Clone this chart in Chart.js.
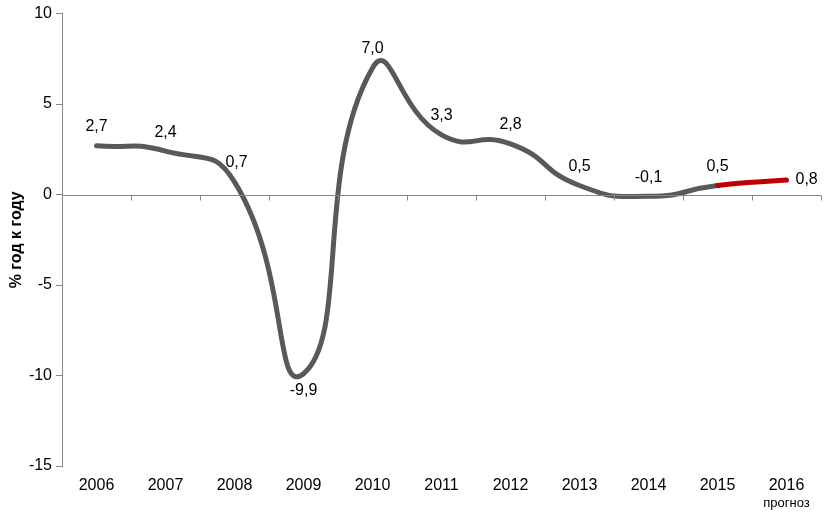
<!DOCTYPE html>
<html>
<head>
<meta charset="utf-8">
<script src="https://cdn.jsdelivr.net/npm/chart.js@4"></script>
<style>
  html, body { margin: 0; padding: 0; background: #fff; }
  #wrap { width: 832px; height: 515px; }
</style>
</head>
<body>
<div id="wrap"><canvas id="grafica" width="832" height="515"></canvas></div>
<script>
const years = ['2006', '2007', '2008', '2009', '2010', '2011', '2012', '2013', '2014', '2015', '2016'];
const growth = [2.7, 2.4, 0.7, -9.9, 7.0, 3.3, 2.8, 0.5, -0.1, 0.5, 0.8];
const forecastNote = 'прогноз';
const yTicks = [-15, -10, -5, 0, 5, 10];

const FONT = 'Arial, "Liberation Sans", sans-serif';
const AXIS_GRAY = '#868686';

// подписи значений и линия нуля с засечками
const extras = {
  id: 'extras',
  afterDatasetsDraw(chart) {
    const { ctx, scales: { x, y }, chartArea } = chart;
    ctx.save();
    // ось X на нуле
    const y0 = Math.round(y.getPixelForValue(0)) + 0.5;
    ctx.strokeStyle = AXIS_GRAY;
    ctx.lineWidth = 1;
    ctx.beginPath();
    ctx.moveTo(chartArea.left, y0);
    ctx.lineTo(chartArea.right, y0);
    for (let i = 0; i <= years.length; i++) {
      const px = Math.round(chartArea.left + (chartArea.right - chartArea.left) * i / years.length) + 0.5;
      ctx.moveTo(px, y0);
      ctx.lineTo(px, y0 + 5);
    }
    ctx.stroke();

    // значения
    ctx.fillStyle = '#000';
    ctx.font = '16px ' + FONT;
    ctx.textBaseline = 'middle';
    const meta = chart.getDatasetMeta(0);
    meta.data.forEach((pt, i) => {
      const txt = growth[i].toFixed(1).replace('.', ',');
      let lx = pt.x, ly = pt.y - 19, align = 'center';
      if (i === 3) { ly = pt.y + 17; }
      if (i === 2) { lx = pt.x + 2; }
      if (i === years.length - 1) { lx = pt.x + 9; ly = pt.y; align = 'left'; }
      ctx.textAlign = align;
      ctx.fillText(txt, lx, ly);
    });

    // подпись "прогноз"
    const last = x.getPixelForValue(years.length - 1);
    ctx.font = '13px ' + FONT;
    ctx.textAlign = 'center';
    ctx.fillText(forecastNote, last, 503);
    ctx.restore();
  }
};

new Chart(document.getElementById('grafica').getContext('2d'), {
  type: 'line',
  data: {
    labels: years,
    datasets: [{
      data: growth,
      borderColor: '#595959',
      borderWidth: 5,
      borderCapStyle: 'round',
      tension: 0.55,
      pointRadius: 0,
      fill: false,
      segment: {
        borderColor: c => c.p0DataIndex === years.length - 2 ? '#c00000' : '#595959'
      }
    }]
  },
  options: {
    responsive: false,
    animation: false,
    layout: { padding: { top: 11, right: 11, left: 0, bottom: 0 } },
    plugins: { legend: { display: false }, tooltip: { enabled: false } },
    scales: {
      x: {
        offset: true,
        grid: { display: false },
        border: { display: false },
        ticks: { color: '#000', font: { size: 16, family: FONT }, padding: 2, maxRotation: 0 },
        afterFit: s => { s.height = 49; }
      },
      y: {
        min: -15,
        max: 10,
        afterBuildTicks: s => { s.ticks = yTicks.map(v => ({ value: v })); },
        grid: { drawOnChartArea: false, drawTicks: true, tickLength: 6, color: AXIS_GRAY },
        border: { display: true, color: AXIS_GRAY },
        ticks: { color: '#000', font: { size: 16, family: FONT }, padding: 4 },
        title: { display: true, text: '% год к году', color: '#000', font: { size: 16, weight: 'bold', family: FONT }, padding: { top: 7, bottom: 4 } },
        afterFit: s => { s.width = 62; }
      }
    }
  },
  plugins: [extras]
});
</script>
</body>
</html>
